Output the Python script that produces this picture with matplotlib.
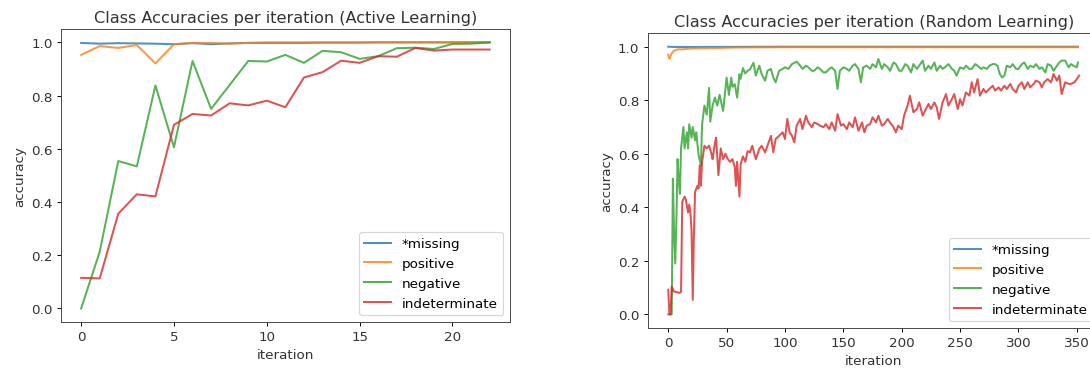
import matplotlib
matplotlib.use("Agg")
import matplotlib.pyplot as plt

labels = ["*missing", "positive", "negative", "indeterminate"]

# --- active learning (one value per iteration, 0..22) ---
al_iter = list(range(23))
al_missing = [0.998, 0.995, 0.997, 0.996, 0.995, 0.993, 0.997, 0.993, 0.996, 0.998, 0.998, 0.998,
              0.998, 0.999, 0.999, 0.999, 1.0, 1.0, 1.0, 1.0, 1.0, 1.0, 1.0]
al_positive = [0.953, 0.986, 0.979, 0.990, 0.921, 0.993, 0.998, 0.998, 0.995, 0.998, 1.0, 1.0,
               1.0, 1.0, 1.0, 1.0, 1.0, 1.0, 1.0, 1.0, 1.0, 1.0, 1.0]
al_negative = [0.0, 0.213, 0.554, 0.534, 0.838, 0.606, 0.930, 0.750, 0.840, 0.930, 0.928, 0.953,
               0.923, 0.968, 0.963, 0.938, 0.948, 0.978, 0.980, 0.975, 0.994, 0.995, 1.0]
al_indet = [0.115, 0.113, 0.356, 0.429, 0.421, 0.690, 0.731, 0.725, 0.771, 0.763, 0.781, 0.756,
            0.868, 0.888, 0.931, 0.923, 0.948, 0.946, 0.979, 0.969, 0.973, 0.973, 0.973]

# --- random learning (irregular iterations) ---
rl_missing_iter = [0, 5, 20, 100, 200, 351]
rl_missing = [1.0, 0.999, 0.999, 1.0, 1.0, 1.0]
rl_positive_iter = [0, 1, 2, 3, 5, 8, 12, 18, 25, 40, 60, 100, 200, 351]
rl_positive = [0.97, 0.955, 0.965, 0.975, 0.985, 0.99, 0.99, 0.993, 0.994, 0.995, 0.997, 0.998,
               0.998, 0.998]

rl_negative_iter = [0, 1, 2, 3, 4, 5, 6, 7, 8, 9, 10, 11, 13, 14, 16, 17, 18, 20, 21, 23, 24, 26,
                    28, 29, 31, 33, 35, 36, 38, 40, 42, 44, 47, 48, 50, 52, 54, 55, 57, 59, 61, 62,
                    64, 66, 68, 70, 73, 75, 78, 80, 83, 85, 88, 90, 92, 95, 98, 100, 103, 106, 110,
                    113, 115, 118, 120, 123, 125, 128, 130, 133, 135, 138, 140, 143, 145, 147, 150,
                    153, 155, 158, 160, 163, 165, 167, 170, 173, 175, 178, 180, 183, 185, 188, 190,
                    193, 195, 198, 200, 203, 205, 208, 210, 213, 215, 218, 220, 223, 225, 228, 230,
                    233, 235, 237, 240, 243, 245, 247, 250, 253, 255, 258, 260, 263, 265, 268, 270,
                    273, 275, 278, 280, 282, 284, 286, 288, 290, 293, 295, 298, 300, 303, 305, 308,
                    310, 313, 315, 318, 320, 323, 325, 328, 330, 333, 335, 337, 340, 343, 345, 347,
                    350, 351]
rl_negative = [0.0, 0.0, 0.0, 0.0, 0.507, 0.306, 0.19, 0.35, 0.58, 0.5, 0.45, 0.62, 0.70, 0.62,
               0.68, 0.62, 0.71, 0.66, 0.70, 0.65, 0.68, 0.595, 0.557, 0.71, 0.78, 0.746, 0.846,
               0.72, 0.78, 0.81, 0.78, 0.82, 0.76, 0.80, 0.884, 0.82, 0.884, 0.85, 0.86, 0.81,
               0.897, 0.88, 0.92, 0.90, 0.91, 0.915, 0.94, 0.892, 0.929, 0.898, 0.873, 0.91, 0.917,
               0.885, 0.867, 0.91, 0.917, 0.923, 0.917, 0.935, 0.944, 0.929, 0.917, 0.929, 0.923,
               0.91, 0.91, 0.923, 0.917, 0.904, 0.904, 0.917, 0.923, 0.91, 0.842, 0.91, 0.923,
               0.917, 0.91, 0.929, 0.935, 0.917, 0.867, 0.923, 0.929, 0.917, 0.935, 0.923, 0.954,
               0.917, 0.935, 0.923, 0.91, 0.941, 0.935, 0.91, 0.91, 0.935, 0.929, 0.904, 0.935,
               0.917, 0.929, 0.948, 0.91, 0.929, 0.917, 0.941, 0.91, 0.929, 0.917, 0.923, 0.935,
               0.917, 0.91, 0.892, 0.923, 0.917, 0.929, 0.917, 0.917, 0.935, 0.929, 0.917, 0.923,
               0.917, 0.929, 0.935, 0.935, 0.929, 0.898, 0.885, 0.892, 0.929, 0.923, 0.935, 0.917,
               0.917, 0.935, 0.941, 0.917, 0.929, 0.923, 0.935, 0.917, 0.923, 0.904, 0.935, 0.929,
               0.91, 0.929, 0.941, 0.948, 0.948, 0.923, 0.935, 0.929, 0.923, 0.941]

rl_indet_iter = [0, 1, 2, 3, 5, 8, 10, 11, 12, 14, 15, 17, 18, 19, 20, 21, 22, 23, 25, 26, 27, 28,
                 29, 31, 33, 35, 37, 38, 40, 41, 43, 45, 47, 49, 51, 53, 55, 57, 58, 59, 61, 62, 64,
                 66, 68, 70, 72, 75, 78, 80, 83, 85, 88, 90, 92, 95, 98, 100, 102, 104, 106, 108,
                 110, 113, 115, 118, 120, 123, 125, 128, 130, 133, 135, 138, 140, 143, 145, 148,
                 150, 153, 155, 158, 160, 163, 166, 168, 170, 173, 175, 178, 180, 183, 185, 188,
                 190, 193, 195, 197, 200, 202, 205, 207, 210, 213, 215, 218, 220, 223, 225, 228,
                 230, 232, 235, 238, 240, 243, 245, 248, 250, 252, 255, 258, 260, 262, 265, 267,
                 270, 272, 275, 278, 280, 283, 285, 288, 290, 293, 295, 298, 300, 303, 305, 308,
                 310, 313, 315, 318, 320, 322, 325, 328, 330, 333, 335, 337, 340, 343, 345, 348,
                 350, 352]
rl_indet = [0.092, 0.0, 0.0, 0.104, 0.085, 0.082, 0.08, 0.085, 0.42, 0.44, 0.43, 0.38, 0.41, 0.38,
            0.31, 0.054, 0.3, 0.457, 0.48, 0.47, 0.557, 0.48, 0.57, 0.63, 0.62, 0.63, 0.60, 0.58,
            0.64, 0.66, 0.52, 0.62, 0.58, 0.60, 0.58, 0.57, 0.58, 0.55, 0.48, 0.57, 0.44, 0.56,
            0.59, 0.57, 0.61, 0.605, 0.63, 0.58, 0.618, 0.63, 0.605, 0.63, 0.667, 0.605, 0.655,
            0.667, 0.68, 0.655, 0.73, 0.68, 0.667, 0.643, 0.705, 0.73, 0.692, 0.742, 0.717, 0.699,
            0.717, 0.711, 0.705, 0.699, 0.711, 0.692, 0.717, 0.686, 0.748, 0.705, 0.711, 0.692,
            0.717, 0.699, 0.736, 0.686, 0.717, 0.68, 0.705, 0.711, 0.736, 0.717, 0.742, 0.705,
            0.711, 0.73, 0.717, 0.699, 0.68, 0.705, 0.692, 0.742, 0.78, 0.817, 0.755, 0.767, 0.792,
            0.742, 0.761, 0.786, 0.767, 0.792, 0.773, 0.73, 0.792, 0.823, 0.78, 0.804, 0.823, 0.767,
            0.804, 0.78, 0.829, 0.817, 0.867, 0.829, 0.879, 0.817, 0.842, 0.829, 0.842, 0.854,
            0.836, 0.848, 0.836, 0.854, 0.842, 0.861, 0.842, 0.829, 0.854, 0.867, 0.842, 0.867,
            0.848, 0.861, 0.873, 0.867, 0.848, 0.867, 0.879, 0.867, 0.898, 0.873, 0.892, 0.823,
            0.867, 0.861, 0.861, 0.867, 0.879, 0.892]

plt.rcParams["font.size"] = 11.4
plt.rcParams["axes.titlesize"] = 13.7
plt.rcParams["lines.linewidth"] = 1.7
plt.rcParams["axes.edgecolor"] = "#444444"

fig = plt.figure(figsize=(1090 / 85, 371 / 85), dpi=85)

ax1 = fig.add_axes([0.0557, 0.130, 0.4122, 0.789])
ax1.plot(al_iter, al_missing, label=labels[0], alpha=0.8)
ax1.plot(al_iter, al_positive, label=labels[1], alpha=0.8)
ax1.plot(al_iter, al_negative, label=labels[2], alpha=0.8)
ax1.plot(al_iter, al_indet, label=labels[3], alpha=0.8)
ax1.set_title("Class Accuracies per iteration (Active Learning)", color="#333333")
ax1.set_xlabel("iteration", color="#333333")
ax1.set_ylabel("accuracy", color="#333333")
ax1.set_xticks([0, 5, 10, 15, 20])
ax1.tick_params(labelcolor="#333333")
ax1.legend(loc="lower right")

ax2 = fig.add_axes([0.5942, 0.114, 0.4147, 0.7935])
ax2.plot(rl_missing_iter, rl_missing, label=labels[0], alpha=0.8)
ax2.plot(rl_positive_iter, rl_positive, label=labels[1], alpha=0.8)
ax2.plot(rl_negative_iter, rl_negative, label=labels[2], alpha=0.8)
ax2.plot(rl_indet_iter, rl_indet, label=labels[3], alpha=0.8)
ax2.set_title("Class Accuracies per iteration (Random Learning)", color="#333333")
ax2.set_xlabel("iteration", color="#333333")
ax2.set_ylabel("accuracy", color="#333333")
ax2.set_xticks([0, 50, 100, 150, 200, 250, 300, 350])
ax2.tick_params(labelcolor="#333333")
ax2.legend(loc="lower right")

fig.savefig("out.png", dpi=85)
